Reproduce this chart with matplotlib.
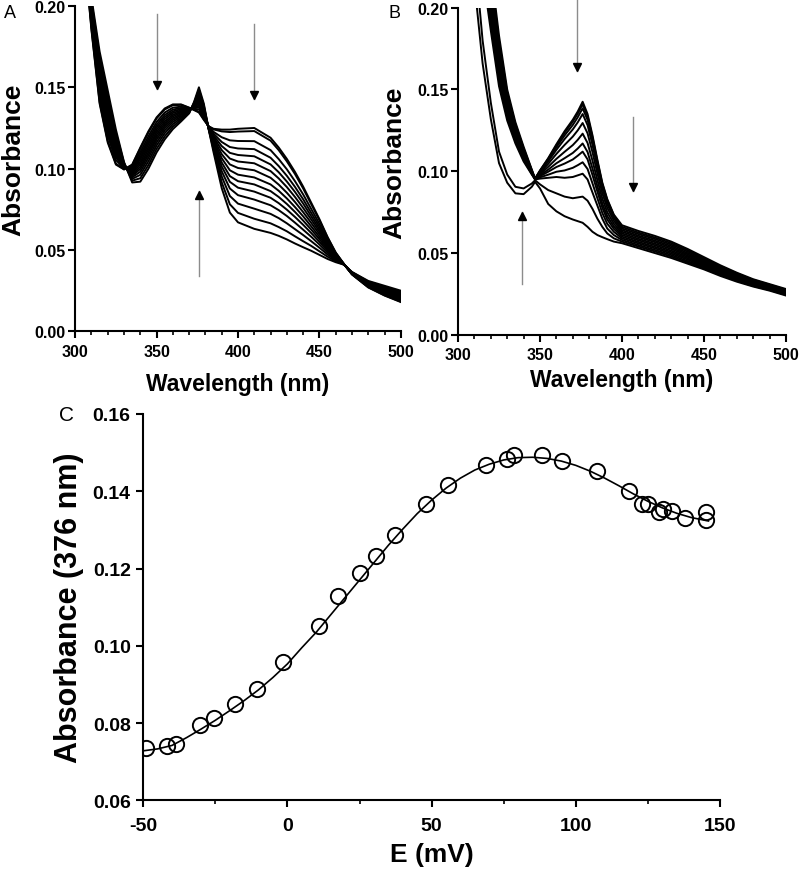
import numpy as np
import matplotlib
matplotlib.use('Agg')
import matplotlib.pyplot as plt
from matplotlib.transforms import offset_copy

plt.rcParams['font.family'] = ['Liberation Sans', 'DejaVu Sans']

# Panel A: spectra of the high-potential step, one column per spectrum
wl_a = [305, 310, 315, 320, 325, 330, 335, 340, 345, 350, 355, 360, 365, 370, 373,
        376, 379, 382, 385, 390, 395, 400, 410, 420, 425, 430, 435, 440, 445, 450,
        455, 460, 465, 470, 480, 490, 500]
abs_a = [
    [0.240, 0.240, 0.241, 0.242, 0.243, 0.244, 0.244, 0.245, 0.246, 0.246, 0.247, 0.248, 0.249, 0.250],
    [0.185, 0.186, 0.188, 0.189, 0.191, 0.192, 0.193, 0.195, 0.196, 0.198, 0.199, 0.201, 0.203, 0.205],
    [0.1400, 0.1410, 0.1442, 0.1467, 0.1490, 0.1512, 0.1534, 0.1557, 0.1579, 0.1602, 0.1627, 0.1656, 0.1688, 0.1720],
    [0.1160, 0.1170, 0.1202, 0.1227, 0.1250, 0.1272, 0.1294, 0.1317, 0.1339, 0.1362, 0.1387, 0.1416, 0.1448, 0.1480],
    [0.1025, 0.1031, 0.1053, 0.1070, 0.1085, 0.1100, 0.1115, 0.1130, 0.1145, 0.1160, 0.1178, 0.1197, 0.1219, 0.1240],
    [0.0995, 0.0996, 0.1001, 0.1004, 0.1008, 0.1011, 0.1014, 0.1017, 0.1020, 0.1023, 0.1027, 0.1031, 0.1036, 0.1040],
    [0.1025, 0.1022, 0.1011, 0.1002, 0.0994, 0.0987, 0.0979, 0.0971, 0.0963, 0.0956, 0.0947, 0.0937, 0.0926, 0.0915],
    [0.1130, 0.1124, 0.1103, 0.1086, 0.1071, 0.1057, 0.1042, 0.1027, 0.1012, 0.0998, 0.0981, 0.0962, 0.0941, 0.0920],
    [0.1230, 0.1223, 0.1200, 0.1182, 0.1166, 0.1150, 0.1133, 0.1117, 0.1101, 0.1085, 0.1067, 0.1046, 0.1023, 0.1000],
    [0.1315, 0.1309, 0.1287, 0.1270, 0.1255, 0.1240, 0.1225, 0.1210, 0.1195, 0.1180, 0.1162, 0.1143, 0.1122, 0.1100],
    [0.1370, 0.1364, 0.1345, 0.1330, 0.1317, 0.1304, 0.1290, 0.1277, 0.1264, 0.1250, 0.1235, 0.1218, 0.1199, 0.1180],
    [0.1395, 0.1390, 0.1375, 0.1363, 0.1352, 0.1342, 0.1331, 0.1321, 0.1310, 0.1299, 0.1287, 0.1273, 0.1258, 0.1243],
    [0.1395, 0.1392, 0.1381, 0.1373, 0.1366, 0.1358, 0.1351, 0.1344, 0.1336, 0.1329, 0.1320, 0.1311, 0.1301, 0.1290],
    [0.1375, 0.1374, 0.1370, 0.1368, 0.1365, 0.1363, 0.1360, 0.1358, 0.1355, 0.1353, 0.1350, 0.1347, 0.1344, 0.1340],
    [0.1360, 0.1362, 0.1367, 0.1371, 0.1374, 0.1378, 0.1381, 0.1385, 0.1388, 0.1392, 0.1396, 0.1400, 0.1405, 0.1410],
    [0.1345, 0.1350, 0.1365, 0.1378, 0.1388, 0.1399, 0.1410, 0.1421, 0.1432, 0.1443, 0.1455, 0.1469, 0.1485, 0.1500],
    [0.1300, 0.1303, 0.1313, 0.1321, 0.1328, 0.1335, 0.1342, 0.1349, 0.1356, 0.1363, 0.1371, 0.1380, 0.1390, 0.1400],
    [0.1260, 0.1260, 0.1257, 0.1256, 0.1254, 0.1253, 0.1252, 0.1250, 0.1249, 0.1247, 0.1246, 0.1244, 0.1242, 0.1240],
    [0.1245, 0.1241, 0.1226, 0.1215, 0.1204, 0.1194, 0.1184, 0.1174, 0.1164, 0.1154, 0.1142, 0.1129, 0.1115, 0.1100],
    [0.1240, 0.1229, 0.1193, 0.1164, 0.1139, 0.1114, 0.1089, 0.1064, 0.1038, 0.1013, 0.0984, 0.0952, 0.0916, 0.0880],
    [0.1240, 0.1225, 0.1174, 0.1133, 0.1097, 0.1062, 0.1026, 0.0990, 0.0954, 0.0919, 0.0878, 0.0832, 0.0781, 0.0730],
    [0.1245, 0.1228, 0.1170, 0.1124, 0.1084, 0.1044, 0.1004, 0.0963, 0.0923, 0.0883, 0.0837, 0.0785, 0.0728, 0.0670],
    [0.1250, 0.1231, 0.1169, 0.1120, 0.1076, 0.1033, 0.0990, 0.0946, 0.0903, 0.0859, 0.0810, 0.0754, 0.0692, 0.0630],
    [0.1190, 0.1172, 0.1114, 0.1067, 0.1026, 0.0985, 0.0944, 0.0903, 0.0862, 0.0821, 0.0775, 0.0722, 0.0664, 0.0605],
    [0.1130, 0.1114, 0.1059, 0.1016, 0.0978, 0.0940, 0.0902, 0.0864, 0.0826, 0.0788, 0.0745, 0.0696, 0.0641, 0.0587],
    [0.1060, 0.1045, 0.0996, 0.0956, 0.0921, 0.0887, 0.0852, 0.0817, 0.0783, 0.0748, 0.0709, 0.0664, 0.0615, 0.0565],
    [0.0980, 0.0967, 0.0923, 0.0888, 0.0857, 0.0826, 0.0795, 0.0764, 0.0734, 0.0703, 0.0668, 0.0628, 0.0584, 0.0540],
    [0.0890, 0.0879, 0.0842, 0.0812, 0.0786, 0.0759, 0.0733, 0.0707, 0.0681, 0.0655, 0.0625, 0.0592, 0.0554, 0.0517],
    [0.0790, 0.0781, 0.0752, 0.0728, 0.0707, 0.0687, 0.0666, 0.0645, 0.0625, 0.0604, 0.0581, 0.0554, 0.0525, 0.0495],
    [0.0690, 0.0683, 0.0661, 0.0644, 0.0628, 0.0613, 0.0598, 0.0582, 0.0567, 0.0551, 0.0534, 0.0514, 0.0492, 0.0470],
    [0.0580, 0.0576, 0.0562, 0.0552, 0.0542, 0.0533, 0.0523, 0.0514, 0.0504, 0.0495, 0.0484, 0.0472, 0.0459, 0.0445],
    [0.0485, 0.0483, 0.0477, 0.0472, 0.0468, 0.0464, 0.0460, 0.0456, 0.0451, 0.0447, 0.0442, 0.0437, 0.0431, 0.0425],
    [0.0415, 0.0415, 0.0414, 0.0414, 0.0414, 0.0413, 0.0413, 0.0413, 0.0412, 0.0412, 0.0411, 0.0411, 0.0410, 0.0410],
    [0.0350, 0.0350, 0.0352, 0.0353, 0.0354, 0.0355, 0.0356, 0.0357, 0.0358, 0.0359, 0.0361, 0.0362, 0.0364, 0.0365],
    [0.0270, 0.0271, 0.0275, 0.0278, 0.0281, 0.0284, 0.0287, 0.0290, 0.0292, 0.0295, 0.0298, 0.0302, 0.0306, 0.0310],
    [0.0220, 0.0222, 0.0228, 0.0233, 0.0237, 0.0241, 0.0245, 0.0249, 0.0254, 0.0258, 0.0263, 0.0268, 0.0274, 0.0280],
    [0.0180, 0.0182, 0.0189, 0.0195, 0.0200, 0.0205, 0.0209, 0.0214, 0.0219, 0.0224, 0.0230, 0.0236, 0.0243, 0.0250],
]

# Panel B: spectra of the low-potential step
wl_b = [305, 310, 315, 320, 325, 330, 335, 340, 345, 347, 350, 355, 360, 365, 370, 373,
        376, 379, 382, 385, 388, 391, 395, 400, 410, 420, 430, 440, 450, 460, 470, 480,
        490, 500]
abs_b = [
    [0.340, 0.336, 0.331, 0.327, 0.322, 0.318, 0.313, 0.309, 0.304, 0.300, 0.290, 0.270],
    [0.300, 0.296, 0.292, 0.287, 0.283, 0.279, 0.275, 0.270, 0.266, 0.262, 0.235, 0.215],
    [0.258, 0.254, 0.250, 0.246, 0.242, 0.238, 0.234, 0.230, 0.226, 0.222, 0.180, 0.166],
    [0.224, 0.220, 0.216, 0.211, 0.207, 0.203, 0.199, 0.194, 0.190, 0.186, 0.142, 0.132],
    [0.1830, 0.1796, 0.1761, 0.1727, 0.1692, 0.1658, 0.1624, 0.1589, 0.1555, 0.1520, 0.1120, 0.1050],
    [0.1500, 0.1479, 0.1458, 0.1437, 0.1416, 0.1394, 0.1373, 0.1352, 0.1331, 0.1310, 0.0980, 0.0930],
    [0.1300, 0.1286, 0.1271, 0.1257, 0.1242, 0.1228, 0.1213, 0.1199, 0.1184, 0.1170, 0.0905, 0.0865],
    [0.1150, 0.1140, 0.1130, 0.1120, 0.1110, 0.1100, 0.1090, 0.1080, 0.1070, 0.1060, 0.0895, 0.0860],
    [0.1010, 0.1007, 0.1003, 0.1000, 0.0997, 0.0993, 0.0990, 0.0987, 0.0983, 0.0980, 0.0925, 0.0905],
    [0.0955, 0.0954, 0.0953, 0.0953, 0.0952, 0.0952, 0.0951, 0.0951, 0.0950, 0.0950, 0.0945, 0.0935],
    [0.1005, 0.1003, 0.1000, 0.0997, 0.0990, 0.0983, 0.0976, 0.0970, 0.0963, 0.0955, 0.0920, 0.0895],
    [0.1080, 0.1076, 0.1069, 0.1060, 0.1045, 0.1027, 0.1010, 0.0997, 0.0979, 0.0960, 0.0885, 0.0800],
    [0.1165, 0.1158, 0.1147, 0.1131, 0.1106, 0.1076, 0.1049, 0.1026, 0.0997, 0.0965, 0.0865, 0.0755],
    [0.1245, 0.1235, 0.1219, 0.1197, 0.1161, 0.1119, 0.1080, 0.1047, 0.1005, 0.0960, 0.0845, 0.0725],
    [0.1315, 0.1303, 0.1283, 0.1256, 0.1212, 0.1160, 0.1112, 0.1072, 0.1021, 0.0965, 0.0835, 0.0705],
    [0.1365, 0.1352, 0.1330, 0.1299, 0.1250, 0.1192, 0.1139, 0.1095, 0.1037, 0.0975, 0.0840, 0.0695],
    [0.1425, 0.1410, 0.1385, 0.1350, 0.1295, 0.1230, 0.1170, 0.1120, 0.1055, 0.0985, 0.0845, 0.0685],
    [0.1350, 0.1336, 0.1314, 0.1282, 0.1232, 0.1173, 0.1118, 0.1073, 0.1014, 0.0950, 0.0820, 0.0660],
    [0.1220, 0.1208, 0.1188, 0.1161, 0.1117, 0.1065, 0.1017, 0.0977, 0.0926, 0.0870, 0.0770, 0.0630],
    [0.1070, 0.1060, 0.1045, 0.1022, 0.0987, 0.0946, 0.0908, 0.0876, 0.0835, 0.0790, 0.0710, 0.0610],
    [0.0930, 0.0923, 0.0910, 0.0893, 0.0865, 0.0833, 0.0802, 0.0778, 0.0745, 0.0710, 0.0660, 0.0597],
    [0.0830, 0.0824, 0.0814, 0.0799, 0.0777, 0.0750, 0.0726, 0.0705, 0.0679, 0.0650, 0.0620, 0.0585],
    [0.0735, 0.0731, 0.0724, 0.0714, 0.0698, 0.0680, 0.0663, 0.0648, 0.0630, 0.0610, 0.0590, 0.0570],
    [0.0670, 0.0660, 0.0650, 0.0640, 0.0630, 0.0620, 0.0610, 0.0600, 0.0590, 0.0580, 0.0570, 0.0560],
    [0.0635, 0.0625, 0.0616, 0.0606, 0.0597, 0.0587, 0.0578, 0.0568, 0.0559, 0.0549, 0.0540, 0.0530],
    [0.0605, 0.0595, 0.0586, 0.0576, 0.0567, 0.0557, 0.0548, 0.0538, 0.0529, 0.0519, 0.0510, 0.0500],
    [0.0570, 0.0561, 0.0552, 0.0543, 0.0534, 0.0525, 0.0515, 0.0506, 0.0497, 0.0488, 0.0479, 0.0470],
    [0.0525, 0.0517, 0.0509, 0.0500, 0.0492, 0.0484, 0.0476, 0.0468, 0.0460, 0.0451, 0.0443, 0.0435],
    [0.0475, 0.0468, 0.0461, 0.0455, 0.0448, 0.0441, 0.0434, 0.0427, 0.0420, 0.0414, 0.0407, 0.0400],
    [0.0425, 0.0419, 0.0413, 0.0407, 0.0401, 0.0395, 0.0390, 0.0384, 0.0378, 0.0372, 0.0366, 0.0360],
    [0.0380, 0.0375, 0.0370, 0.0365, 0.0360, 0.0355, 0.0350, 0.0345, 0.0340, 0.0335, 0.0330, 0.0325],
    [0.0340, 0.0336, 0.0332, 0.0328, 0.0324, 0.0320, 0.0315, 0.0311, 0.0307, 0.0303, 0.0299, 0.0295],
    [0.0310, 0.0306, 0.0303, 0.0299, 0.0295, 0.0292, 0.0288, 0.0285, 0.0281, 0.0277, 0.0274, 0.0270],
    [0.0280, 0.0276, 0.0273, 0.0269, 0.0265, 0.0262, 0.0258, 0.0255, 0.0251, 0.0247, 0.0244, 0.0240],
]

# Panel C: absorbance at 376 nm against potential, and the fitted curve
e_mv = [-49.0, -41.8, -38.5, -30.4, -25.6, -18.3, -10.5, -1.5, 11.1, 17.5, 25.0, 30.6,
        37.2, 47.9, 55.7, 69.0, 76.0, 78.6, 88.3, 95.2, 107.5, 118.4, 122.8, 124.9,
        128.9, 130.1, 133.5, 137.8, 145.1, 145.1]
a376 = [0.0735, 0.0740, 0.0745, 0.0794, 0.0814, 0.0849, 0.0888, 0.0958, 0.1052, 0.1128,
        0.1189, 0.1232, 0.1288, 0.1366, 0.1416, 0.1468, 0.1483, 0.1494, 0.1494, 0.1479,
        0.1453, 0.1401, 0.1366, 0.1366, 0.1346, 0.1353, 0.1349, 0.1332, 0.1345, 0.1326]
fit_e = [-50, -45, -40, -35, -30, -25, -20, -15, -10, -5, 0, 5, 10, 15, 20, 25, 30, 35,
         40, 45, 50, 55, 60, 65, 70, 75, 80, 85, 90, 95, 100, 105, 110, 115, 120, 125,
         130, 135, 140, 146]
fit_a = [0.0728, 0.0733, 0.0742, 0.0762, 0.0784, 0.0807, 0.0832, 0.0858, 0.0886, 0.0918,
         0.0953, 0.0995, 0.1035, 0.1080, 0.1125, 0.1170, 0.1215, 0.1260, 0.1302, 0.1342,
         0.1377, 0.1408, 0.1434, 0.1455, 0.1470, 0.1481, 0.1487, 0.1488, 0.1485, 0.1478,
         0.1467, 0.1452, 0.1434, 0.1414, 0.1393, 0.1374, 0.1357, 0.1343, 0.1332, 0.1323]


def style_axes(ax, size):
    for side in ['top', 'right']:
        ax.spines[side].set_visible(False)
    for side in ['left', 'bottom']:
        ax.spines[side].set_linewidth(1.5)
    ax.tick_params(which='major', direction='out', width=1.5, length=5, labelsize=size)
    ax.tick_params(which='minor', direction='out', width=1.2, length=3)


def spectrum_axes(ax):
    ax.set_xlim(300, 500)
    ax.set_ylim(0, 0.2)
    xt = [300, 350, 400, 450, 500]
    yt = [0.0, 0.05, 0.10, 0.15, 0.20]
    ax.set_xticks(xt, [str(v) for v in xt], fontweight='bold')
    ax.set_yticks(yt, [f'{v:.2f}' for v in yt], fontweight='bold')
    ax.set_xticks(np.arange(310, 500, 10), minor=True)
    style_axes(ax, 11.5)
    ax.tick_params(axis='x', pad=4)
    ax.tick_params(axis='y', pad=2)


def arrow(ax, x, y_from, y_tip):
    # grey shaft with a small black head
    ax.plot([x, x], [y_from, y_tip], color='#8c8c8c', lw=1.0, clip_on=False)
    down = y_tip < y_from
    tr = offset_copy(ax.transData, fig=ax.figure, y=4 if down else -4, units='dots')
    ax.plot([x], [y_tip], marker='v' if down else '^', ms=6, color='black',
            transform=tr, clip_on=False, zorder=5)


fig = plt.figure(figsize=(8, 8.7), dpi=100)

ax_a = fig.add_axes([0.094, 0.618, 0.407, 0.374])
ax_a.plot(wl_a, abs_a, color='black', lw=1.4)
spectrum_axes(ax_a)
ax_a.set_xlabel('Wavelength (nm)', fontsize=16.5, fontweight='bold')
ax_a.xaxis.set_label_coords(0.5, -0.16)
ax_a.xaxis.label.set_va('center')
ax_a.set_ylabel('Absorbance', fontsize=19, fontweight='bold')
ax_a.yaxis.set_label_coords(-0.19, 0.53)
ax_a.yaxis.label.set_va('center')
arrow(ax_a, 350, 0.195, 0.149)
arrow(ax_a, 410, 0.189, 0.143)
arrow(ax_a, 376, 0.034, 0.086)

ax_b = fig.add_axes([0.5725, 0.614, 0.41, 0.376])
ax_b.plot(wl_b, abs_b, color='black', lw=1.4)
spectrum_axes(ax_b)
ax_b.set_xlabel('Wavelength (nm)', fontsize=16.5, fontweight='bold')
ax_b.xaxis.set_label_coords(0.5, -0.138)
ax_b.xaxis.label.set_va('center')
ax_b.set_ylabel('Absorbance', fontsize=19, fontweight='bold')
ax_b.yaxis.set_label_coords(-0.195, 0.53)
ax_b.yaxis.label.set_va('center')
arrow(ax_b, 372.4, 0.206, 0.161)
arrow(ax_b, 406.5, 0.133, 0.088)
arrow(ax_b, 339.2, 0.031, 0.075)

ax_c = fig.add_axes([0.179, 0.079, 0.721, 0.444])
ax_c.plot(fit_e, fit_a, color='black', lw=1.2)
ax_c.plot(e_mv, a376, 'o', ms=11, mfc='none', mec='black', mew=1.4)
ax_c.set_xlim(-50, 150)
ax_c.set_ylim(0.06, 0.16)
xc = [-50, 0, 50, 100, 150]
yc = [0.06, 0.08, 0.10, 0.12, 0.14, 0.16]
ax_c.set_xticks(xc, [str(v) for v in xc], fontweight='bold')
ax_c.set_yticks(yc, [f'{v:.2f}' for v in yc], fontweight='bold')
ax_c.set_xticks([-25, 25, 75, 125], minor=True)
style_axes(ax_c, 14)
ax_c.tick_params(axis='x', pad=7)
ax_c.tick_params(axis='y', pad=4)
ax_c.set_xlabel('E (mV)', fontsize=19, fontweight='bold')
ax_c.xaxis.set_label_coords(0.5, -0.14)
ax_c.xaxis.label.set_va('center')
ax_c.set_ylabel('Absorbance (376 nm)', fontsize=22, fontweight='bold')
ax_c.yaxis.set_label_coords(-0.128, 0.5)
ax_c.yaxis.label.set_va('center')

fig.text(10 / 800, 1 - 13 / 870, 'A', fontsize=13, ha='center', va='center')
fig.text(394 / 800, 1 - 13 / 870, 'B', fontsize=13, ha='center', va='center')
fig.text(66 / 800, 1 - 416 / 870, 'C', fontsize=15, ha='center', va='center')

fig.savefig('out.png', dpi=100)
